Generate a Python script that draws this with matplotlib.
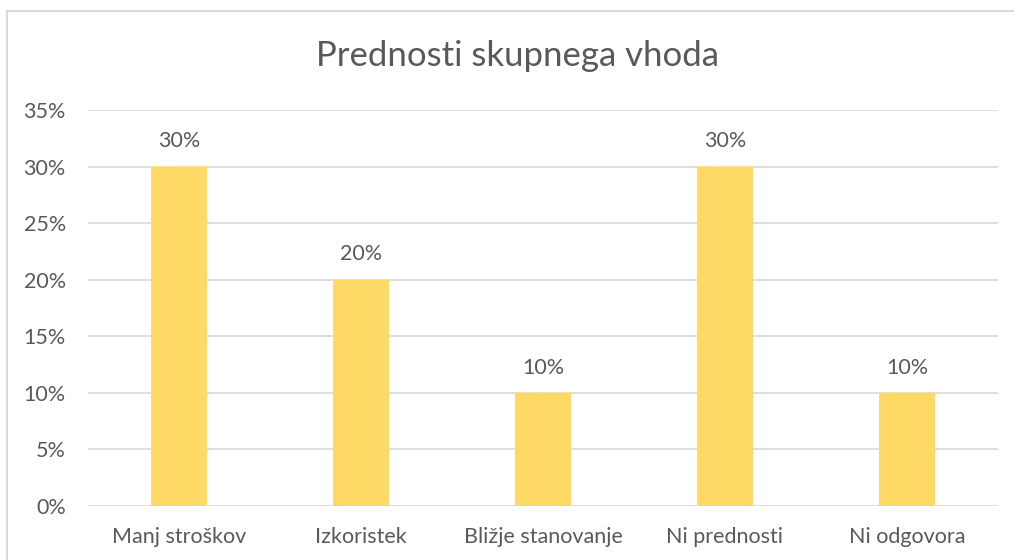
import matplotlib.pyplot as plt
import matplotlib.patches as mpatches

categories = ['Manj stroškov', 'Izkoristek', 'Bližje stanovanje', 'Ni prednosti', 'Ni odgovora']
values = [30, 20, 10, 30, 10]
yticks = [0, 5, 10, 15, 20, 25, 30, 35]

plt.rcParams['font.family'] = ['Lato', 'DejaVu Sans']
text_color = '#595959'
bar_color = '#FFD966'
grid_color = '#D9D9D9'
fs = 15.5

fig = plt.figure(figsize=(10.14, 5.6), dpi=100)
ax = fig.add_axes([88 / 1014, 1 - 506 / 560, 910 / 1014, 396 / 560])

# chart border (runs off the right and bottom edge like the original)
fig.patches.append(mpatches.Rectangle((7 / 1014, -0.1), 1.2, 1 - 11 / 560 + 0.1,
                                      transform=fig.transFigure, fill=False,
                                      edgecolor='#D9D9D9', linewidth=1.5))

x = list(range(len(categories)))
bars = ax.bar(x, values, width=0.31, color=bar_color, zorder=3)
for xi, v in zip(x, values):
    ax.annotate(f"{v}%", (xi, v), xytext=(0, 11), textcoords='offset points',
                ha='center', va='bottom', fontsize=fs, color=text_color)

ax.set_xlim(-0.5, len(categories) - 0.5)
ax.set_ylim(0, 35)
ax.set_yticks(yticks)
ax.set_yticklabels([f"{t}%" for t in yticks], fontsize=fs, color=text_color)
ax.set_xticks(x)
ax.set_xticklabels(categories, fontsize=fs, color=text_color)
ax.tick_params(length=0)
ax.tick_params(axis='y', pad=16)
ax.tick_params(axis='x', pad=15)
ax.grid(axis='y', color=grid_color, linewidth=1.2, zorder=0)
for s in ax.spines.values():
    s.set_visible(False)

fig.text(517 / 1014, 1 - 56 / 560, 'Prednosti skupnega vhoda', ha='center', va='center',
         fontsize=25, color=text_color)

plt.savefig('out.png', dpi=100)
